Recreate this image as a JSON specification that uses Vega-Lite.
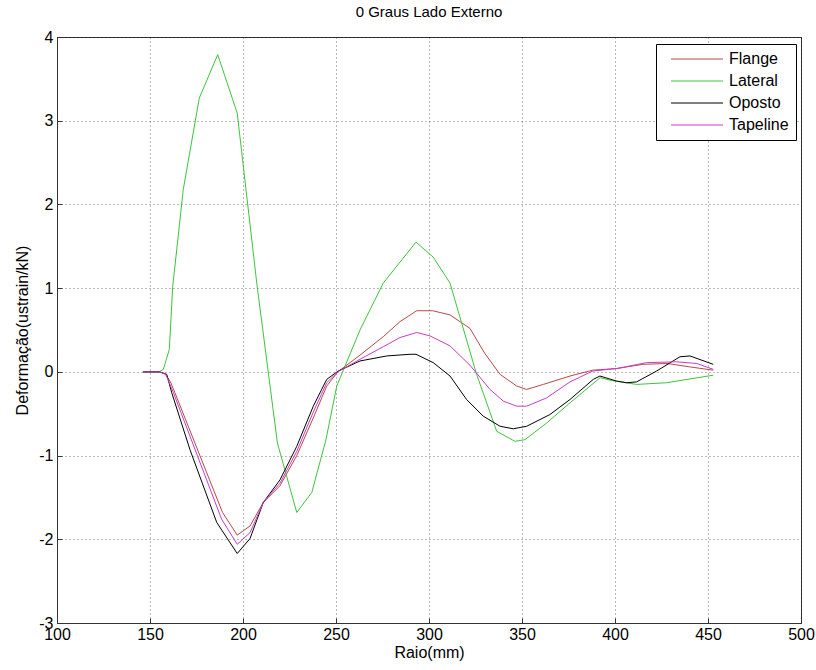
{
  "$schema": "https://vega.github.io/schema/vega-lite/v6.json",
  "autosize": {"type": "none"},
  "padding": {"left": 57, "top": 37, "right": 15, "bottom": 47},
  "width": 744,
  "height": 586,
  "background": "white",
  "title": {"text": "0 Graus Lado Externo", "fontSize": 15, "fontWeight": "normal", "font": "Liberation Sans", "color": "#000", "offset": 9},
  "config": {
    "font": "Liberation Sans",
    "view": {"stroke": "#333", "strokeWidth": 1},
    "axis": {
      "domainColor": "#333", "tickColor": "#333", "tickSize": -5,
      "labelFont": "Liberation Sans", "labelFontSize": 16, "labelColor": "#000",
      "titleFont": "Liberation Sans", "titleFontSize": 16, "titleFontWeight": "normal", "titleColor": "#000",
      "gridColor": "#000", "gridOpacity": 0.55, "gridDash": [1, 3], "gridWidth": 1
    }
  },
  "datasets": {
    "d": [
      {"s":"Flange","x":146.2,"y":0},{"s":"Flange","x":150,"y":0},{"s":"Flange","x":155,"y":0},{"s":"Flange","x":158,"y":-0.02},{"s":"Flange","x":161,"y":-0.12},{"s":"Flange","x":163.4,"y":-0.25},{"s":"Flange","x":189,"y":-1.68},{"s":"Flange","x":196.9,"y":-1.95},{"s":"Flange","x":203.8,"y":-1.84},{"s":"Flange","x":210.9,"y":-1.56},{"s":"Flange","x":219.9,"y":-1.36},{"s":"Flange","x":228.9,"y":-1.0},{"s":"Flange","x":237.8,"y":-0.55},{"s":"Flange","x":245,"y":-0.17},{"s":"Flange","x":251,"y":0.0},{"s":"Flange","x":262.9,"y":0.2},{"s":"Flange","x":275.4,"y":0.42},{"s":"Flange","x":284.4,"y":0.6},{"s":"Flange","x":293.4,"y":0.73},{"s":"Flange","x":302,"y":0.73},{"s":"Flange","x":311.3,"y":0.68},{"s":"Flange","x":322,"y":0.52},{"s":"Flange","x":330,"y":0.22},{"s":"Flange","x":338.2,"y":-0.03},{"s":"Flange","x":347.2,"y":-0.17},{"s":"Flange","x":352.5,"y":-0.21},{"s":"Flange","x":361.5,"y":-0.15},{"s":"Flange","x":375.8,"y":-0.05},{"s":"Flange","x":388,"y":0.02},{"s":"Flange","x":401,"y":0.04},{"s":"Flange","x":415,"y":0.09},{"s":"Flange","x":428,"y":0.1},{"s":"Flange","x":440,"y":0.06},{"s":"Flange","x":452.8,"y":0.02},
      {"s":"Lateral","x":146.2,"y":0},{"s":"Lateral","x":150,"y":0},{"s":"Lateral","x":155,"y":0},{"s":"Lateral","x":157.2,"y":0.03},{"s":"Lateral","x":160.4,"y":0.27},{"s":"Lateral","x":162.2,"y":1.02},{"s":"Lateral","x":167.9,"y":2.18},{"s":"Lateral","x":176.5,"y":3.27},{"s":"Lateral","x":186.4,"y":3.79},{"s":"Lateral","x":196.9,"y":3.09},{"s":"Lateral","x":207.4,"y":1.06},{"s":"Lateral","x":218.5,"y":-0.85},{"s":"Lateral","x":228.9,"y":-1.68},{"s":"Lateral","x":237,"y":-1.44},{"s":"Lateral","x":244.6,"y":-0.81},{"s":"Lateral","x":250.4,"y":-0.17},{"s":"Lateral","x":262.9,"y":0.5},{"s":"Lateral","x":275.4,"y":1.06},{"s":"Lateral","x":293,"y":1.55},{"s":"Lateral","x":302.3,"y":1.37},{"s":"Lateral","x":311.3,"y":1.06},{"s":"Lateral","x":325.6,"y":-0.03},{"s":"Lateral","x":336.4,"y":-0.71},{"s":"Lateral","x":346.2,"y":-0.83},{"s":"Lateral","x":351.6,"y":-0.81},{"s":"Lateral","x":363.3,"y":-0.61},{"s":"Lateral","x":375.8,"y":-0.37},{"s":"Lateral","x":392,"y":-0.07},{"s":"Lateral","x":397.3,"y":-0.1},{"s":"Lateral","x":411.6,"y":-0.15},{"s":"Lateral","x":427.7,"y":-0.13},{"s":"Lateral","x":452.8,"y":-0.04},
      {"s":"Oposto","x":146.2,"y":0},{"s":"Oposto","x":150,"y":0},{"s":"Oposto","x":155,"y":0},{"s":"Oposto","x":159,"y":-0.03},{"s":"Oposto","x":161.7,"y":-0.25},{"s":"Oposto","x":171.5,"y":-0.93},{"s":"Oposto","x":185.9,"y":-1.8},{"s":"Oposto","x":196.9,"y":-2.17},{"s":"Oposto","x":203.8,"y":-1.99},{"s":"Oposto","x":210.9,"y":-1.56},{"s":"Oposto","x":219.9,"y":-1.29},{"s":"Oposto","x":228.9,"y":-0.89},{"s":"Oposto","x":237.8,"y":-0.41},{"s":"Oposto","x":245,"y":-0.09},{"s":"Oposto","x":251.2,"y":0.01},{"s":"Oposto","x":262.9,"y":0.13},{"s":"Oposto","x":277.3,"y":0.19},{"s":"Oposto","x":289.8,"y":0.21},{"s":"Oposto","x":293,"y":0.21},{"s":"Oposto","x":302.3,"y":0.11},{"s":"Oposto","x":311.3,"y":-0.05},{"s":"Oposto","x":320.2,"y":-0.33},{"s":"Oposto","x":329.2,"y":-0.53},{"s":"Oposto","x":338.2,"y":-0.65},{"s":"Oposto","x":345.3,"y":-0.68},{"s":"Oposto","x":352.5,"y":-0.65},{"s":"Oposto","x":365,"y":-0.51},{"s":"Oposto","x":375.8,"y":-0.33},{"s":"Oposto","x":388.3,"y":-0.09},{"s":"Oposto","x":391.9,"y":-0.05},{"s":"Oposto","x":400.9,"y":-0.11},{"s":"Oposto","x":406.3,"y":-0.13},{"s":"Oposto","x":411.6,"y":-0.12},{"s":"Oposto","x":422.4,"y":0.01},{"s":"Oposto","x":434.9,"y":0.18},{"s":"Oposto","x":440.3,"y":0.19},{"s":"Oposto","x":452.8,"y":0.09},
      {"s":"Tapeline","x":146.2,"y":0},{"s":"Tapeline","x":150,"y":0},{"s":"Tapeline","x":155,"y":0},{"s":"Tapeline","x":158.5,"y":-0.03},{"s":"Tapeline","x":162.6,"y":-0.25},{"s":"Tapeline","x":188.5,"y":-1.76},{"s":"Tapeline","x":196.9,"y":-2.06},{"s":"Tapeline","x":203.8,"y":-1.92},{"s":"Tapeline","x":210.9,"y":-1.56},{"s":"Tapeline","x":219.9,"y":-1.33},{"s":"Tapeline","x":228.9,"y":-0.95},{"s":"Tapeline","x":237.8,"y":-0.48},{"s":"Tapeline","x":245,"y":-0.13},{"s":"Tapeline","x":251,"y":0.0},{"s":"Tapeline","x":262.9,"y":0.15},{"s":"Tapeline","x":275.4,"y":0.3},{"s":"Tapeline","x":284.4,"y":0.41},{"s":"Tapeline","x":293.4,"y":0.47},{"s":"Tapeline","x":300.5,"y":0.43},{"s":"Tapeline","x":311.3,"y":0.31},{"s":"Tapeline","x":322,"y":0.08},{"s":"Tapeline","x":332.8,"y":-0.21},{"s":"Tapeline","x":340,"y":-0.35},{"s":"Tapeline","x":347.2,"y":-0.41},{"s":"Tapeline","x":352.5,"y":-0.41},{"s":"Tapeline","x":363.3,"y":-0.31},{"s":"Tapeline","x":375.8,"y":-0.12},{"s":"Tapeline","x":388,"y":0.01},{"s":"Tapeline","x":401,"y":0.04},{"s":"Tapeline","x":417,"y":0.11},{"s":"Tapeline","x":433,"y":0.12},{"s":"Tapeline","x":444,"y":0.1},{"s":"Tapeline","x":452.8,"y":0.03}
    ]
  },
  "data": {"name": "d"},
  "mark": {"type": "line", "strokeWidth": 1, "interpolate": "linear"},
  "encoding": {
    "x": {"field": "x", "type": "quantitative", "title": "Raio(mm)",
      "scale": {"domain": [100, 500], "nice": false, "zero": false},
      "axis": {"values": [100,150,200,250,300,350,400,450,500], "labelPadding": 8, "titlePadding": 2, "labelFlush": false}},
    "y": {"field": "y", "type": "quantitative", "title": "Deformação(ustrain/kN)",
      "scale": {"domain": [-3, 4], "nice": false, "zero": false},
      "axis": {"values": [-3,-2,-1,0,1,2,3,4], "labelExpr": "'' + datum.value", "labelPadding": 9, "titlePadding": 8, "labelFlush": false}},
    "color": {"field": "s", "type": "nominal",
      "scale": {"domain": ["Flange","Lateral","Oposto","Tapeline"], "range": ["#b84848","#3cc43c","#000000","#c83cc8"]},
      "legend": {"title": null, "orient": "none", "legendX": 599, "legendY": 7,
        "symbolType": "M0,0H10.4", "symbolSize": 100, "symbolStrokeWidth": 1,
        "labelFontSize": 16, "labelColor": "#000", "labelOffset": 50, "rowPadding": 6,
        "padding": 7, "strokeColor": "#000", "fillColor": "#fff", "cornerRadius": 0}}
  }
}
